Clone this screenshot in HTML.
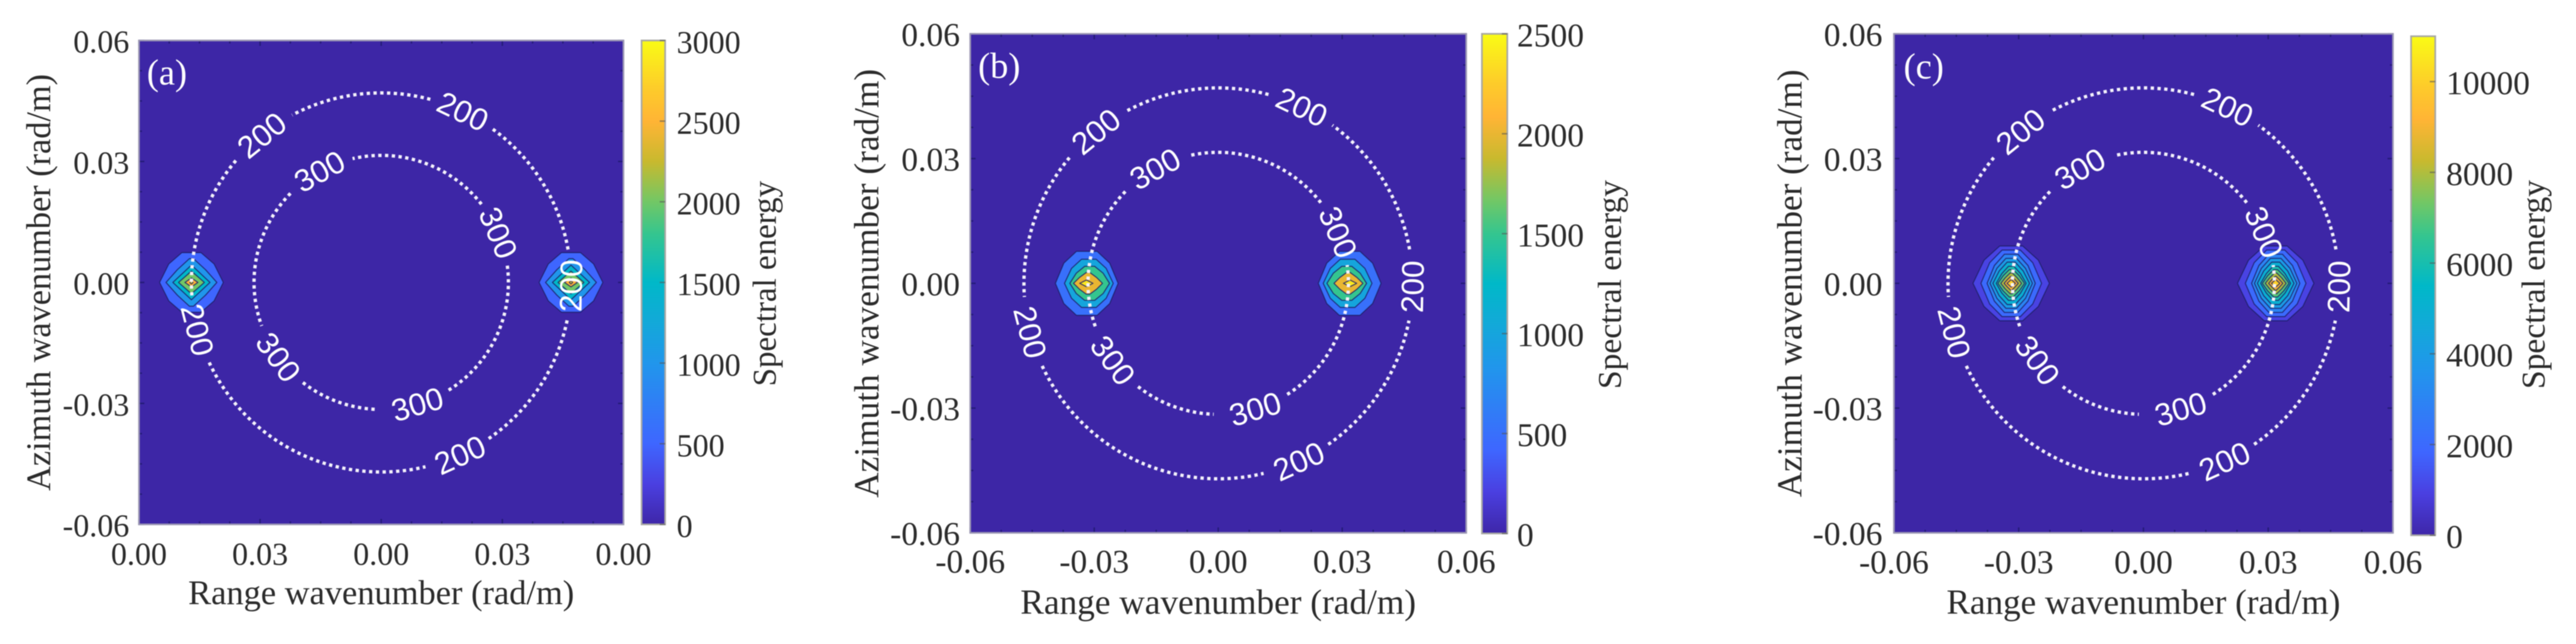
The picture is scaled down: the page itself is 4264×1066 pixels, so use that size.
<!DOCTYPE html>
<html lang="en">
<head>
<meta charset="utf-8">
<title>Spectral energy panels</title>
<style>
html,body{margin:0;padding:0;background:#fff;}
body{width:4264px;height:1066px;overflow:hidden;}
svg{display:block;filter:blur(0.9px);}
text{font-family:"Liberation Serif","Times New Roman",serif;fill:#2b2b2b;}
.ring-label{font-family:"Liberation Sans",Arial,sans-serif;fill:#fff;}
</style>
</head>
<body>
<svg id="figure" xmlns="http://www.w3.org/2000/svg" width="4264" height="1066" viewBox="0 0 4264 1066">
<defs>
<linearGradient id="parula" x1="0" y1="1" x2="0" y2="0">
<stop offset="0" stop-color="#3e26a8"/><stop offset="0.083" stop-color="#4a3fe0"/>
<stop offset="0.167" stop-color="#3e66ff"/><stop offset="0.33" stop-color="#2195ec"/>
<stop offset="0.42" stop-color="#12a9d8"/><stop offset="0.5" stop-color="#00b8c8"/>
<stop offset="0.6" stop-color="#34c58f"/><stop offset="0.667" stop-color="#72c765"/>
<stop offset="0.75" stop-color="#c8b92e"/><stop offset="0.833" stop-color="#ffb435"/>
<stop offset="0.9" stop-color="#fdcb2a"/><stop offset="1" stop-color="#f9fb15"/>
</linearGradient>
</defs>
</svg>
<script>
// ---- Shared data ----
const axisTickValues = [-0.06, -0.03, 0, 0.03, 0.06];
const yTickLabels = ["-0.06", "-0.03", "0.00", "0.03", "0.06"];
const ringRadii = [0.047, 0.0315];
const ringNames = ["200", "300"];
const outerRingArcs = [[10, 54], [75, 118], [140, 184], [205, 283.5], [304.5, 349]];
const innerRingArcs = [[-58, 8], [38, 103], [135.5, 200], [232, 268]];
const outerLabelAngles = [64.5, 129, -1, 194.5, -65.5];
const innerLabelAngles = [23, 119, 216, -73.5];

// ---- Panel (a) data ----
const panelAXTickLabels = ["0.00", "0.03", "0.00", "0.03", "0.00"];
const panelAPeakK = [-0.047, 0.047];
const panelALevels = [500, 1000, 1500, 2000, 2500, 2900];
const panelAHalfX = [0.0079, 0.0063, 0.0046, 0.0032, 0.0016, 0.0004];
const panelAHalfY = [0.0074, 0.0059, 0.0043, 0.0028, 0.0011, 0.0004];
const panelAFlat = [0.3, 0.08, 0, 0, 0, 0];
const panelAInward = [0, 0, 0, 0, 0, 0];
const panelAColorMax = 3000;
const panelAColorTicks = [0, 500, 1000, 1500, 2000, 2500, 3000];

// ---- Panel (b) data ----
const panelBXTickLabels = ["-0.06", "-0.03", "0.00", "0.03", "0.06"];
const panelBPeakK = [-0.0318, 0.0318];
const panelBLevels = [500, 1000, 1500, 2000, 2400];
const panelBHalfX = [0.0076, 0.0059, 0.0048, 0.0035, 0.0016];
const panelBHalfY = [0.0077, 0.0058, 0.0041, 0.0026, 0.0008];
const panelBFlat = [0.33, 0.3, 0.25, 0.12, 0];
const panelBInward = [0, 0.0005, 0.0007, 0.0003, -0.0001];
const panelBColorMax = 2500;
const panelBColorTicks = [0, 500, 1000, 1500, 2000, 2500];

// ---- Panel (c) data ----
const panelCXTickLabels = ["-0.06", "-0.03", "0.00", "0.03", "0.06"];
const panelCPeakK = [-0.0318, 0.0318];
const panelCLevels = [1000, 2000, 3000, 4000, 5000, 6000, 7000, 8000, 9000, 10000];
const panelCHalfX = [0.0092, 0.0073, 0.0058, 0.0051, 0.0044, 0.0036, 0.0032, 0.0025, 0.0017, 0.0010];
const panelCHalfY = [0.0090, 0.0080, 0.0070, 0.0060, 0.0051, 0.0041, 0.0033, 0.0025, 0.0017, 0.0009];
const panelCFlat = [0.3, 0.3, 0.28, 0.25, 0.22, 0.18, 0.14, 0.1, 0.05, 0];
const panelCInward = [0, 0, 0, 0, 0, 0, 0, 0, 0, 0];
const panelCColorMax = 11000;
const panelCColorTicks = [0, 2000, 4000, 6000, 8000, 10000];

// ---- Layout (pixels) ----
const layouts = [
 {tag:"a", panelLabel:"(a)", x0:230, x1:1032, y0:67, y1:868, cbx0:1062, cbx1:1101, cby0:67, cby1:868,
  tickSize:53, ySize:57, xTickRight:214, xTickBase:935, xLabelBase:1000, xLabelLen:639, yLabelX:83, yLabelLen:690,
  cbLabelLeft:1120, cbTitleX:1284, cbTitleLen:340, cbTitleSize:55, plX:243, plY:140,
  xt:panelAXTickLabels, peaks:panelAPeakK, levels:panelALevels, hx:panelAHalfX, hy:panelAHalfY, flat:panelAFlat, inward:panelAInward, cmax:panelAColorMax, cticks:panelAColorTicks},
 {tag:"b", panelLabel:"(b)", x0:1606, x1:2427, y0:56, y1:882, cbx0:2453, cbx1:2495, cby0:56, cby1:883,
  tickSize:55.5, ySize:58, xTickRight:1589, xTickBase:948, xLabelBase:1016, xLabelLen:655, yLabelX:1454, yLabelLen:710,
  cbLabelLeft:2511, cbTitleX:2683, cbTitleLen:346, cbTitleSize:55, plX:1619, plY:129,
  xt:panelBXTickLabels, peaks:panelBPeakK, levels:panelBLevels, hx:panelBHalfX, hy:panelBHalfY, flat:panelBFlat, inward:panelBInward, cmax:panelBColorMax, cticks:panelBColorTicks},
 {tag:"c", panelLabel:"(c)", x0:3135, x1:3961, y0:56, y1:882, cbx0:3991, cbx1:4031, cby0:60, cby1:886,
  tickSize:55.5, ySize:58, xTickRight:3116, xTickBase:949, xLabelBase:1016, xLabelLen:652, yLabelX:2982, yLabelLen:708,
  cbLabelLeft:4049, cbTitleX:4212, cbTitleLen:346, cbTitleSize:55, plX:3151, plY:130,
  xt:panelCXTickLabels, peaks:panelCPeakK, levels:panelCLevels, hx:panelCHalfX, hy:panelCHalfY, flat:panelCFlat, inward:panelCInward, cmax:panelCColorMax, cticks:panelCColorTicks}
];

const colormapPositions = [0, .083, .167, .33, .42, .5, .6, .667, .75, .833, .9, 1];
const colormapColors = [[62,38,168],[74,63,224],[62,102,255],[33,149,236],[18,169,216],[0,184,200],[52,197,143],[114,199,101],[200,185,46],[255,180,53],[253,203,42],[249,251,21]];

const NS = "http://www.w3.org/2000/svg";
const svg = document.getElementById("figure");

function parula(t) {
  t = Math.max(0, Math.min(1, t));
  let i = 0;
  while (i < colormapPositions.length - 2 && t > colormapPositions[i + 1]) i++;
  const f = (t - colormapPositions[i]) / (colormapPositions[i + 1] - colormapPositions[i]);
  const a = colormapColors[i], b = colormapColors[i + 1];
  return "rgb(" + a.map((v, j) => Math.round(v + (b[j] - v) * f)).join(",") + ")";
}
function make(parent, tag, attrs, content) {
  const e = document.createElementNS(NS, tag);
  for (const k in attrs) e.setAttribute(k, attrs[k]);
  if (content !== undefined) e.textContent = content;
  parent.appendChild(e);
  return e;
}
// unit outline of a contour band: pointed at left/right, flat-topped by "f"
function unitOutline(f) {
  const a = (1 + f) / 2 + f * 0.2, b = 0.5 + f * 0.4;
  const q = f > 0 ? [[1, 0], [a, b], [f, 1], [-f, 1], [-a, b], [-1, 0]] : [[1, 0], [0, 1], [-1, 0]];
  const lower = q.slice(1, -1).reverse().map(v => [v[0], -v[1]]);
  return q.concat(lower);
}

function drawPanel(p) {
  const sx = k => p.x0 + (k + 0.06) / 0.12 * (p.x1 - p.x0);
  const sy = k => p.y1 - (k + 0.06) / 0.12 * (p.y1 - p.y0);
  const rx = k => k / 0.12 * (p.x1 - p.x0);
  const ry = k => k / 0.12 * (p.y1 - p.y0);
  const sc = v => p.cby1 - v / p.cmax * (p.cby1 - p.cby0);

  const g = make(svg, "g", {});
  
  

  const bg = make(g, "rect", {x:p.x0, y:p.y0, width:p.x1 - p.x0, height:p.y1 - p.y0, fill:"#3d26a6"});
  
  

  // filled contours
  p.peaks.forEach(peak => {
    const side = peak < 0 ? 1 : -1;
    p.levels.forEach((lvl, li) => {
      const cx = peak + side * p.inward[li];
      const pts = unitOutline(p.flat[li]).map(v => sx(cx + v[0] * p.hx[li]).toFixed(1) + "," + sy(v[1] * p.hy[li]).toFixed(1));
      const poly = make(g, "polygon", {points:pts.join(" "), fill:parula(lvl / p.cmax), stroke:"#1d1f66", "stroke-opacity":.85, "stroke-width":1.7, "stroke-linejoin":"round"});
      
      
    });
  });

  // dotted rings
  const cx0 = sx(0), cy0 = sy(0);
  [outerRingArcs, innerRingArcs].forEach((arcs, ri) => {
    const a = rx(ringRadii[ri]), b = ry(ringRadii[ri]);
    arcs.forEach(arc => {
      const t0 = arc[0] * Math.PI / 180, t1 = arc[1] * Math.PI / 180;
      const x0 = cx0 + a * Math.cos(t0), y0 = cy0 - b * Math.sin(t0);
      const x1 = cx0 + a * Math.cos(t1), y1 = cy0 - b * Math.sin(t1);
      const large = arc[1] - arc[0] > 180 ? 1 : 0;
      const path = make(g, "path", {d:"M" + x0.toFixed(1) + " " + y0.toFixed(1) + " A" + a.toFixed(1) + " " + b.toFixed(1) + " 0 " + large + " 0 " + x1.toFixed(1) + " " + y1.toFixed(1), fill:"none", stroke:"#f4f2fb", "stroke-width":5.5, "stroke-dasharray":"5.5 5.7"});
      
      
    });
  });

  // ring labels
  [outerLabelAngles, innerLabelAngles].forEach((angles, ri) => {
    const a = rx(ringRadii[ri]), b = ry(ringRadii[ri]);
    angles.forEach(th => {
      const t = th * Math.PI / 180;
      const x = cx0 + a * Math.cos(t), y = cy0 - b * Math.sin(t);
      let rot = 90 - th;
      while (rot > 90) rot -= 180;
      while (rot <= -90) rot += 180;
      const lab = make(g, "text", {class:"ring-label", x:x.toFixed(1), y:y.toFixed(1), "font-size":52, "text-anchor":"middle", dy:"0.35em", transform:"rotate(" + rot.toFixed(1) + " " + x.toFixed(1) + " " + y.toFixed(1) + ")"}, ringNames[ri]);
      
      
    });
  });

  // minor / major ticks on all four sides
  for (let i = 0; i <= 16; i++) {
    const v = -0.06 + i * 0.0075;
    const len = i % 4 === 0 ? 9 : 5;
    const segs = [
      [sx(v), p.y1, sx(v), p.y1 - len], [sx(v), p.y0, sx(v), p.y0 + len],
      [p.x0, sy(v), p.x0 + len, sy(v)], [p.x1, sy(v), p.x1 - len, sy(v)]
    ];
    segs.forEach(s => {
      const tk = make(g, "line", {x1:s[0], y1:s[1], x2:s[2], y2:s[3], stroke:"#241b78", "stroke-width":2.4});
      
      
    });
  }

  const frame = make(g, "rect", {x:p.x0, y:p.y0, width:p.x1 - p.x0, height:p.y1 - p.y0, fill:"none", stroke:"#9c98b4", "stroke-width":2.8});
  
  

  // tick labels
  axisTickValues.forEach((v, i) => {
    const xl = make(g, "text", {x:sx(v), y:p.xTickBase, "font-size":p.tickSize, "text-anchor":"middle"}, p.xt[i]);
    
    
    const yl = make(g, "text", {x:p.xTickRight, y:sy(v) + 20, "font-size":p.tickSize, "text-anchor":"end"}, yTickLabels[i]);
    
    
  });

  // axis titles
  const midX = (p.x0 + p.x1) / 2, midY = (p.y0 + p.y1) / 2;
  const xt = make(g, "text", {x:midX, y:p.xLabelBase, "font-size":p.ySize, "text-anchor":"middle", textLength:p.xLabelLen, lengthAdjust:"spacingAndGlyphs"}, "Range wavenumber (rad/m)");
  
  
  const yt = make(g, "text", {x:p.yLabelX, y:midY, "font-size":p.ySize, "text-anchor":"middle", textLength:p.yLabelLen, lengthAdjust:"spacingAndGlyphs", transform:"rotate(-90 " + p.yLabelX + " " + midY + ")"}, "Azimuth wavenumber (rad/m)");
  
  

  const pl = make(g, "text", {x:p.plX, y:p.plY, "font-size":60, style:"fill:#fff"}, p.panelLabel);
  
  

  // colorbar
  const cb = make(g, "rect", {x:p.cbx0, y:p.cby0, width:p.cbx1 - p.cbx0, height:p.cby1 - p.cby0, fill:"url(#parula)", stroke:"#a8a8a4", "stroke-width":2.8});
  
  
  p.cticks.forEach(v => {
    const tk = make(g, "line", {x1:p.cbx1, y1:sc(v), x2:p.cbx1 - 9, y2:sc(v), stroke:"#555", "stroke-opacity":.6, "stroke-width":2.4});
    
    
    const tl = make(g, "text", {x:p.cbLabelLeft, y:sc(v) + 21, "font-size":p.tickSize}, String(v));
    
    
  });
  const ct = make(g, "text", {x:p.cbTitleX, y:midY + 2, "font-size":p.cbTitleSize, "text-anchor":"middle", textLength:p.cbTitleLen, lengthAdjust:"spacingAndGlyphs", transform:"rotate(-90 " + p.cbTitleX + " " + (midY + 2) + ")"}, "Spectral energy");
  
  
}

layouts.forEach(drawPanel);
</script>
</body>
</html>
